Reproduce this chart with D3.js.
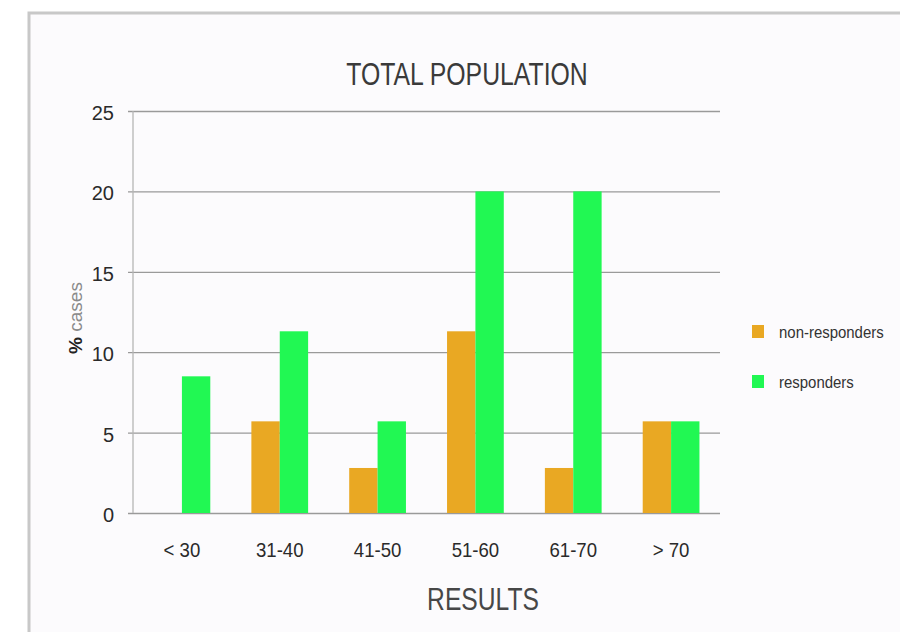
<!DOCTYPE html>
<html><head><meta charset="utf-8">
<script src="https://cdn.jsdelivr.net/npm/d3@7/dist/d3.min.js"></script>
<style>
html,body{margin:0;padding:0;background:#fff;}
svg{display:block;}
text{font-family:"Liberation Sans",Arial,sans-serif;}
</style></head>
<body>
<svg id="chart" width="900" height="632"></svg>
<script>
const categories = ["< 30", "31-40", "41-50", "51-60", "61-70", "> 70"];
const nonResponders = [0, 5.7, 2.8, 11.3, 2.8, 5.7];
const responders = [8.5, 11.3, 5.7, 20, 20, 5.7];
const seriesNames = ["non-responders", "responders"];
const seriesColors = ["#E9A823", "#21F853"];
const yTicks = [0, 5, 10, 15, 20, 25];

const svg = d3.select("#chart");

// slide frame
svg.append("rect").attr("x", 0).attr("y", 0).attr("width", 900).attr("height", 632).attr("fill", "#ffffff");
svg.append("rect").attr("x", 29).attr("y", 13).attr("width", 880).attr("height", 640)
  .attr("fill", "#fcfbfd").attr("stroke", "#c8c8c8").attr("stroke-width", 3);

const m = {left: 133, right: 720, top: 111, bottom: 513};
const x = d3.scaleBand().domain(categories).range([m.left, m.right]).paddingInner(0.42).paddingOuter(0.21);
const x1 = d3.scaleBand().domain(seriesNames).range([0, x.bandwidth()]);
const y = d3.scaleLinear().domain([0, 25]).range([m.bottom, m.top]);

// gridlines + y axis
const yAxis = d3.axisLeft(y).tickValues(yTicks).tickSize(-(m.right - m.left)).tickPadding(19);
const gy = svg.append("g").attr("transform", `translate(${m.left},0)`).call(yAxis);
gy.select(".domain").remove();
gy.selectAll(".tick line").attr("stroke", "#9a9a9a").attr("stroke-width", 1.3).attr("x1", -5);
gy.selectAll(".tick text").attr("font-size", 20).attr("fill", "#2a2a2a").attr("dy", "0.42em")
  .style("font-family", "'Liberation Sans', sans-serif");
svg.append("line").attr("x1", m.left).attr("x2", m.left).attr("y1", m.top).attr("y2", m.bottom)
  .attr("stroke", "#b5b5b5").attr("stroke-width", 1.3);

// bars
const rows = categories.map((c, i) => ({cat: c, vals: [nonResponders[i], responders[i]]}));
const groups = svg.append("g").selectAll("g").data(rows).join("g")
  .attr("transform", d => `translate(${x(d.cat)},0)`);
groups.selectAll("rect").data(d => d.vals.map((v, j) => ({v, j}))).join("rect")
  .attr("x", d => x1(seriesNames[d.j]))
  .attr("width", x1.bandwidth())
  .attr("y", d => y(d.v))
  .attr("height", d => y(0) - y(d.v))
  .attr("fill", d => seriesColors[d.j]);

// x axis labels
const xAxis = d3.axisBottom(x).tickSize(0).tickPadding(0);
const gx = svg.append("g").attr("transform", `translate(0,${m.bottom})`).call(xAxis);
gx.select(".domain").remove();
gx.selectAll(".tick text").attr("font-size", 20).attr("fill", "#2a2a2a")
  .attr("y", 44).attr("dy", 0).attr("transform", "scale(0.93,1)")
  .style("font-family", "'Liberation Sans', sans-serif");

// title
svg.append("text").attr("transform", "translate(467,85) scale(0.8,1)").attr("text-anchor", "middle")
  .attr("font-size", 31).attr("fill", "#3a3a3a").text("TOTAL POPULATION");
// x title
svg.append("text").attr("transform", "translate(483,610) scale(0.77,1)").attr("text-anchor", "middle")
  .attr("font-size", 32).attr("fill", "#474747").text("RESULTS");
// y title
svg.append("text").attr("transform", "translate(82,318) rotate(-90)").attr("text-anchor", "middle")
  .attr("font-size", 19).attr("fill", "#8a8a8a")
  .html('<tspan fill="#222" font-weight="bold">%</tspan> cases');

// legend
const lg = svg.append("g").selectAll("g").data(seriesNames).join("g")
  .attr("transform", (d, i) => `translate(752,${325 + i * 50})`);
lg.append("rect").attr("width", 12).attr("height", 13).attr("fill", (d, i) => seriesColors[i]);
lg.append("text").attr("transform", "translate(27,13) scale(0.88,1)")
  .attr("font-size", 17).attr("fill", "#333").text(d => d);
</script>
</body></html>
